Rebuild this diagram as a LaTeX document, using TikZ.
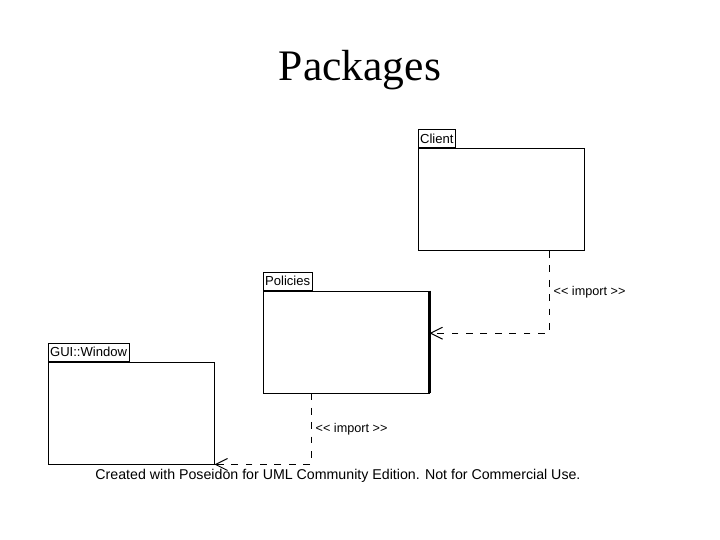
\documentclass[tikz,border=0pt]{standalone}
\usepackage{fontspec}
\setmainfont{Liberation Serif}
\setsansfont{Liberation Sans}
\usepackage{tikz}
\usetikzlibrary{arrows.meta, positioning, calc}
\definecolor{myink}{RGB}{0,0,0}
\tikzset{
  pkgbody/.style={rectangle, draw=myink, fill=white,
    minimum width=4.15cm, minimum height=2.55cm, line width=0.7pt},
  pkgtab/.style={rectangle, draw=myink, fill=white, anchor=south west,
    minimum height=0.45cm, inner xsep=1.5pt, inner ysep=0pt,
    font=\sffamily\fontsize{9.3}{10}\selectfont, line width=0.7pt},
  deparrow/.style={-{Straight Barb[length=0.3cm,width=0.3cm]}, line width=0.7pt,
    color=myink, dash pattern=on 0.17cm off 0.19cm},
  deplabel/.style={font=\sffamily\fontsize{9}{10}\selectfont, inner xsep=3pt}
}
\newcommand{\importtag}{{<}{<} import {>}{>}}
\begin{document}
\begin{tikzpicture}
  \useasboundingbox (0,0) rectangle (18,13.5);
  \node[font=\fontsize{31}{36}\selectfont] (title) at (9,11.75) {Packages};

  \node[pkgbody] (client) at (12.525,8.51) {};
  \node[pkgtab] (clienttab) at (client.north west) {Client};
  \node[pkgbody] (policies) at (8.65,4.95) {};
  \node[pkgtab] (policiestab) at (policies.north west) {Policies};
  \draw[line width=1.6pt] (policies.north east) -- (policies.south east);
  \node[pkgbody] (gui) at (3.275,3.175) {};
  \node[pkgtab] (guitab) at (gui.north west) {GUI::Window};

  \draw[deparrow] ([xshift=1.2cm]client.south) |- ([yshift=0.22cm]policies.east)
    node[deplabel, pos=0.25, right] {\importtag};
  \draw[deparrow] ([xshift=-0.875cm]policies.south) |- (gui.south east)
    node[deplabel, pos=0.25, right] {\importtag};

  \node[font=\sffamily\fontsize{10.1}{11}\selectfont] (footer) at (8.45,1.6)
    {Created with Poseidon for UML Community Edition. Not for Commercial Use.};
\end{tikzpicture}
\end{document}
